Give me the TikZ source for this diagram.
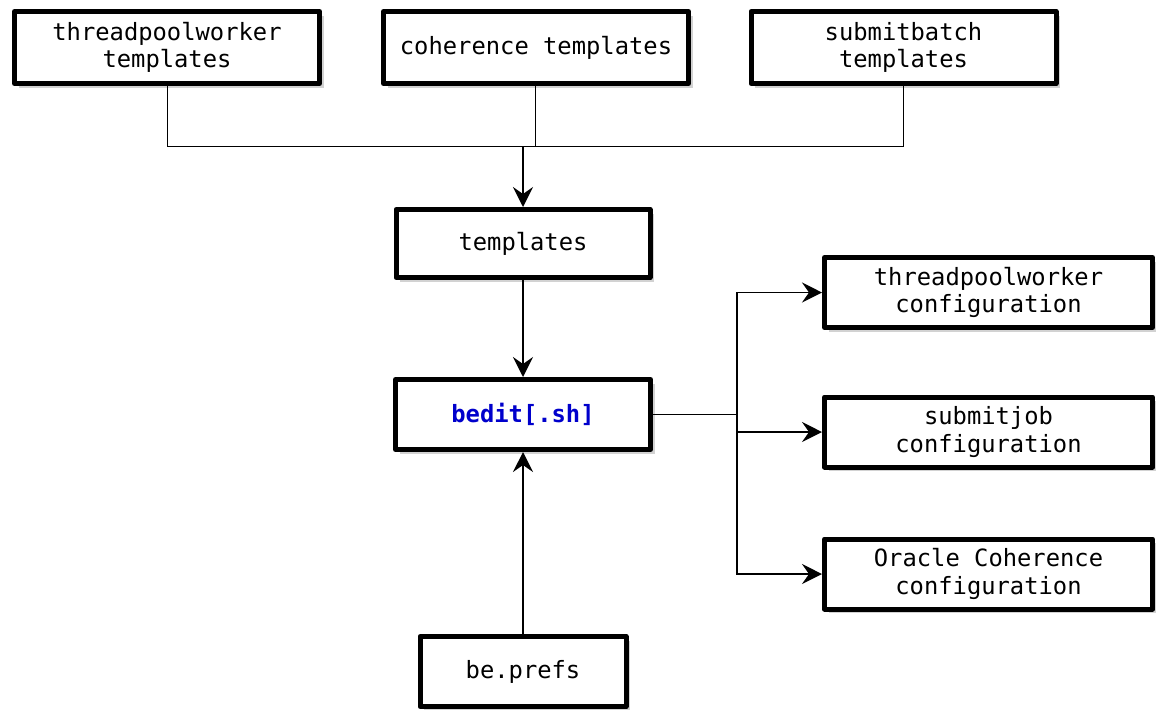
\documentclass[tikz,border=0pt]{standalone}
\usepackage{fontspec}
\setmonofont{DejaVu Sans Mono}
\usepackage{tikz}
\usetikzlibrary{arrows.meta}
\usetikzlibrary{shadows}
\definecolor{beditblue}{RGB}{0,0,204}

\begin{document}
\begin{tikzpicture}[x=0.5pt,y=-0.5pt,
  box/.style={draw,line width=2.5pt,line join=round,fill=white,align=center,inner sep=0pt,
    font=\ttfamily\fontsize{11.9}{13.8}\selectfont,
    drop shadow={shadow xshift=2pt,shadow yshift=-2pt,fill=black!35}},
  link/.style={line width=0.5pt},
  feed/.style={line width=0.8pt,-{Stealth[length=10pt,width=10pt,inset=3.5pt]}}]
\useasboundingbox (0,0) rectangle (1156,709);
% template sources
\node[box,minimum width=152.5pt,minimum height=36pt] (tpwtmpl) at (167,47.5) {threadpoolworker\\templates};
\node[box,minimum width=152.5pt,minimum height=36pt] (cohtmpl) at (536,47.5) {coherence templates};
\node[box,minimum width=152.5pt,minimum height=36pt] (sbtmpl) at (903.5,47.5) {submitbatch\\templates};
\node[box,minimum width=127pt,minimum height=34pt] (tmpl) at (523,243.5) {templates};
\node[box,minimum width=127.5pt,minimum height=35pt,font=\ttfamily\bfseries\fontsize{11.9}{13.8}\selectfont,text=beditblue] (bedit) at (523,414.5) {bedit[.sh]};
\node[box,minimum width=103pt,minimum height=35pt] (prefs) at (523,671.5) {be.prefs};
% generated configurations
\node[box,minimum width=164pt,minimum height=35pt] (tpwcfg) at (988.5,292.5) {threadpoolworker\\configuration};
\node[box,minimum width=164pt,minimum height=35pt] (sjcfg) at (988.5,432) {submitjob\\configuration};
\node[box,minimum width=164pt,minimum height=35pt] (occfg) at (988.5,574) {Oracle Coherence\\configuration};
\coordinate (join) at (523,146);
\coordinate (split) at (737,414.5);
\draw[link] (tpwtmpl.south) |- (join);
\draw[link] (sbtmpl.south) |- (join);
\draw[link] ([xshift=-0.5pt]cohtmpl.south) -- ([xshift=-0.5pt]cohtmpl.south |- join);
\draw[feed] (join) -- (tmpl.north);
\draw[feed] (tmpl.south) -- (bedit.north);
\draw[feed] (prefs.north) -- (bedit.south);
\draw[line width=0.8pt] (bedit.east) -- (split);
\draw[feed] (split) |- (tpwcfg.west);
\draw[feed] (split) |- (sjcfg.west);
\draw[feed] (split) |- (occfg.west);
\end{tikzpicture}
\end{document}
